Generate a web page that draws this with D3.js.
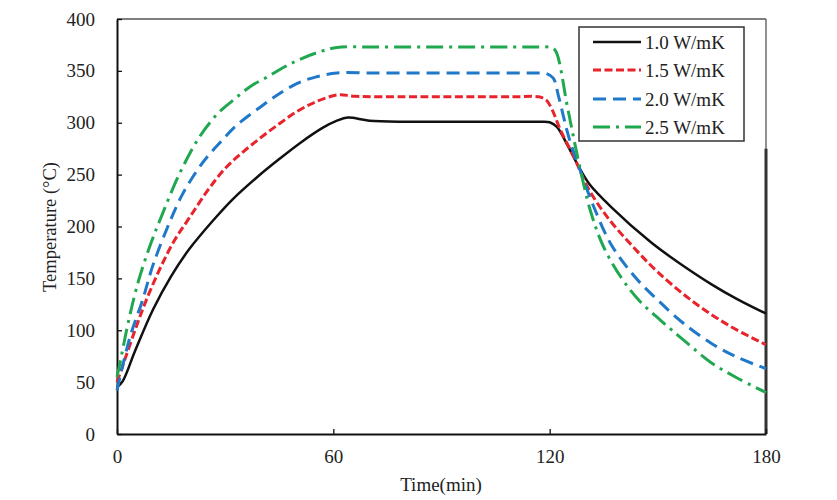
<!DOCTYPE html>
<html><head><meta charset="utf-8">
<script src="https://cdn.jsdelivr.net/npm/d3@7"></script>
<style>body{margin:0;background:#fff}svg{display:block}text{font-family:"Liberation Serif","Times New Roman",serif;fill:#222}</style>
</head><body><svg id="c" width="837" height="500"></svg>
<script>
const xTicks = [0, 60, 120, 180];
const yTicks = [0, 50, 100, 150, 200, 250, 300, 350, 400];
const seriesNames = ["1.0 W/mK", "1.5 W/mK", "2.0 W/mK", "2.5 W/mK"];

const tK10 = [0, 1.6, 5, 10, 15, 20, 26.7, 32, 39, 45, 51, 57, 61, 64, 70, 80, 90, 100, 110, 117, 120, 122, 125, 128, 131, 137, 148, 155, 165, 172, 180];
const vK10 = [45, 51, 80, 120, 152, 178, 206, 226, 248, 265, 281, 295, 302, 305, 302, 301, 301, 301, 301, 301, 300.5, 296, 278, 258, 241, 219, 185, 167, 144, 130, 116];

const tK15 = [0, 2, 5, 8, 12, 16, 20, 25, 30, 35, 40, 45, 50, 55, 60, 62, 66, 80, 90, 100, 110, 117, 119, 120.5, 123, 127, 130.5, 136, 143, 150, 160, 170, 180];
const vK15 = [50, 70, 100, 128, 160, 187, 208, 234, 256, 272, 286, 299, 311, 320, 326, 327, 325.5, 325, 325, 325, 325, 325, 322, 314, 293, 265, 238, 209, 181, 156, 127, 104, 86];

const tK20 = [0, 2, 4, 7, 10, 14.7, 18, 22, 25, 28.6, 33, 39.7, 45, 50, 55, 61, 70, 80, 90, 100, 110, 116, 119, 121, 122.5, 125.4, 129, 132, 137, 143.5, 150, 157, 165, 172, 180];
const vK20 = [42, 72, 98, 128, 163, 205, 230, 253, 267, 281, 297, 315, 328, 338, 344, 348, 348, 348, 348, 348, 348, 348, 347.5, 343, 325, 285, 249, 221, 183, 152, 129, 107, 87, 74, 63];

const tK25 = [0, 0.8, 3.4, 6, 9, 12, 17.5, 23, 28, 32.3, 37, 41.6, 46, 50, 55, 61, 70, 80, 90, 100, 110, 117, 120.5, 121.7, 125, 128, 131.4, 135, 140, 145, 152.6, 158, 164.7, 172, 180];
const vK25 = [55, 68, 112, 148, 180, 207, 252, 287, 309, 322, 335, 344, 353, 360, 367, 372.5, 373, 373, 373, 373, 373, 373, 372.5, 369, 314, 263, 214, 180, 150, 128, 104, 88, 69, 54, 40];

const seriesT = [tK10, tK15, tK20, tK25];
const seriesV = [vK10, vK15, vK20, vK25];
const colors = ["#111111", "#e8232b", "#1f78c8", "#1fa84f"];
const dashes = [null, "8,3.5", "13,7", "17,6,3,6"];
const widths = [2.5, 3, 3, 3];

const svg = d3.select("#c");
const L = 117, R = 766, T = 19, B = 434;
const x = d3.scaleLinear().domain([0, 180]).range([L, R]);
const y = d3.scaleLinear().domain([0, 400]).range([B, T]);

// frame top & right
svg.append("line").attr("x1", L).attr("x2", R).attr("y1", T).attr("y2", T).attr("stroke", "#555").attr("stroke-width", 1.3);
svg.append("line").attr("x1", R).attr("x2", R).attr("y1", T).attr("y2", B).attr("stroke", "#555").attr("stroke-width", 1.3);
svg.append("line").attr("x1", R).attr("x2", R).attr("y1", y(275)).attr("y2", B).attr("stroke", "#333").attr("stroke-width", 3);

// axes
const yAxis = d3.axisLeft(y).tickValues(yTicks).tickSizeInner(-5).tickSizeOuter(0).tickPadding(22);
const gy = svg.append("g").attr("transform", `translate(${L},0)`).call(yAxis);
gy.select(".domain").attr("stroke", "#111").attr("stroke-width", 2);
gy.selectAll(".tick line").attr("stroke", "#111").attr("stroke-width", 1.3);
gy.selectAll(".tick text").attr("font-size", 19).attr("font-family", "Liberation Serif").attr("fill", "#222");

const xAxis = d3.axisBottom(x).tickValues(xTicks).tickSizeInner(-5).tickSizeOuter(0).tickPadding(16);
const gx = svg.append("g").attr("transform", `translate(0,${B})`).call(xAxis);
gx.select(".domain").attr("stroke", "#111").attr("stroke-width", 2);
gx.selectAll(".tick line").attr("stroke", "#111").attr("stroke-width", 1.3);
gx.selectAll(".tick text").attr("font-size", 19).attr("font-family", "Liberation Serif").attr("fill", "#222");

// lines
const line = d3.line().x(d => x(d[0])).y(d => y(d[1])).curve(d3.curveCatmullRom.alpha(0.5));
seriesT.forEach((ts, i) => {
  const pts = ts.map((t, j) => [t, seriesV[i][j]]);
  svg.append("path").datum(pts).attr("d", line).attr("fill", "none")
    .attr("stroke", colors[i]).attr("stroke-width", widths[i])
    .attr("stroke-dasharray", dashes[i]);
});

// titles
svg.append("text").attr("x", 441).attr("y", 491).attr("text-anchor", "middle").attr("font-size", 19).text("Time(min)");
svg.append("text").attr("transform", "translate(56,227) rotate(-90)").attr("text-anchor", "middle").attr("font-size", 18.5).text("Temperature (°C)");

// legend
const lg = svg.append("g");
lg.append("rect").attr("x", 579).attr("y", 27).attr("width", 165).attr("height", 114)
  .attr("fill", "#fff").attr("stroke", "#333").attr("stroke-width", 1.5);
const rowY = [42, 70, 99, 127];
seriesNames.forEach((n, i) => {
  lg.append("line").attr("x1", 593).attr("x2", 641).attr("y1", rowY[i]).attr("y2", rowY[i])
    .attr("stroke", colors[i]).attr("stroke-width", widths[i]).attr("stroke-dasharray", dashes[i]);
  lg.append("text").attr("x", 645).attr("y", rowY[i] + 6.5).attr("font-size", 19).text(n);
});
</script></body></html>
